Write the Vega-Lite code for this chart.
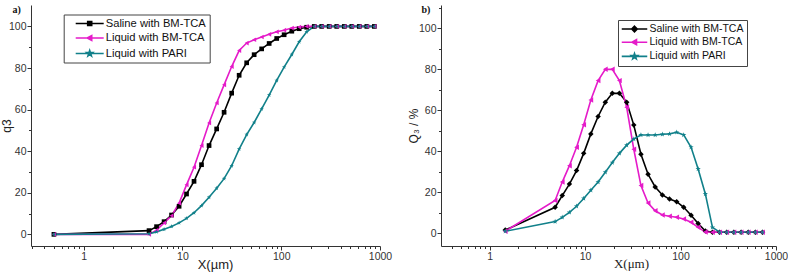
{
  "$schema": "https://vega.github.io/schema/vega-lite/v6.json",
  "padding": {"left": 0, "top": 5, "right": 0, "bottom": 2},
  "background": "white",
  "spacing": 15,
  "config": {
    "view": {"stroke": null},
    "axis": {
      "grid": false,
      "domainColor": "#333333",
      "tickColor": "#333333",
      "labelColor": "#333333",
      "titleColor": "#222222",
      "labelFont": "Liberation Sans",
      "titleFont": "Liberation Sans",
      "labelFontSize": 10.5,
      "titleFontSize": 12,
      "titleFontWeight": "normal",
      "labelPadding": 1,
      "domainWidth": 1,
      "tickWidth": 1
    },
    "legend": {
      "labelFont": "Liberation Sans",
      "labelColor": "#111111"
    }
  },
  "datasets": {
    "a": [
      {"x": 0.5, "y": 0, "s": "Saline with BM-TCA"},
      {"x": 4.59, "y": 1.8, "s": "Saline with BM-TCA"},
      {"x": 5.47, "y": 3.7, "s": "Saline with BM-TCA"},
      {"x": 6.52, "y": 6.1, "s": "Saline with BM-TCA"},
      {"x": 7.76, "y": 9.3, "s": "Saline with BM-TCA"},
      {"x": 9.25, "y": 13.5, "s": "Saline with BM-TCA"},
      {"x": 11.0, "y": 19.4, "s": "Saline with BM-TCA"},
      {"x": 13.1, "y": 25.5, "s": "Saline with BM-TCA"},
      {"x": 15.6, "y": 33.5, "s": "Saline with BM-TCA"},
      {"x": 18.6, "y": 42.7, "s": "Saline with BM-TCA"},
      {"x": 22.2, "y": 50.7, "s": "Saline with BM-TCA"},
      {"x": 26.4, "y": 58.7, "s": "Saline with BM-TCA"},
      {"x": 31.5, "y": 67.9, "s": "Saline with BM-TCA"},
      {"x": 37.5, "y": 76.5, "s": "Saline with BM-TCA"},
      {"x": 44.7, "y": 82.5, "s": "Saline with BM-TCA"},
      {"x": 53.2, "y": 86.4, "s": "Saline with BM-TCA"},
      {"x": 63.4, "y": 89.2, "s": "Saline with BM-TCA"},
      {"x": 75.5, "y": 91.8, "s": "Saline with BM-TCA"},
      {"x": 90.0, "y": 94.2, "s": "Saline with BM-TCA"},
      {"x": 107, "y": 96.0, "s": "Saline with BM-TCA"},
      {"x": 128, "y": 97.7, "s": "Saline with BM-TCA"},
      {"x": 152, "y": 98.9, "s": "Saline with BM-TCA"},
      {"x": 181, "y": 99.6, "s": "Saline with BM-TCA"},
      {"x": 216, "y": 100, "s": "Saline with BM-TCA"},
      {"x": 257, "y": 100, "s": "Saline with BM-TCA"},
      {"x": 306, "y": 100, "s": "Saline with BM-TCA"},
      {"x": 365, "y": 100, "s": "Saline with BM-TCA"},
      {"x": 435, "y": 100, "s": "Saline with BM-TCA"},
      {"x": 518, "y": 100, "s": "Saline with BM-TCA"},
      {"x": 617, "y": 100, "s": "Saline with BM-TCA"},
      {"x": 736, "y": 100, "s": "Saline with BM-TCA"},
      {"x": 877, "y": 100, "s": "Saline with BM-TCA"},
      {"x": 0.5, "y": 0, "s": "Liquid with BM-TCA"},
      {"x": 4.59, "y": 0, "s": "Liquid with BM-TCA"},
      {"x": 5.47, "y": 2.0, "s": "Liquid with BM-TCA"},
      {"x": 6.52, "y": 5.5, "s": "Liquid with BM-TCA"},
      {"x": 7.76, "y": 9.0, "s": "Liquid with BM-TCA"},
      {"x": 9.25, "y": 15.0, "s": "Liquid with BM-TCA"},
      {"x": 11.0, "y": 23.8, "s": "Liquid with BM-TCA"},
      {"x": 13.1, "y": 32.3, "s": "Liquid with BM-TCA"},
      {"x": 15.6, "y": 42.7, "s": "Liquid with BM-TCA"},
      {"x": 18.6, "y": 53.6, "s": "Liquid with BM-TCA"},
      {"x": 22.2, "y": 63.2, "s": "Liquid with BM-TCA"},
      {"x": 26.4, "y": 71.9, "s": "Liquid with BM-TCA"},
      {"x": 31.5, "y": 80.7, "s": "Liquid with BM-TCA"},
      {"x": 37.5, "y": 88.4, "s": "Liquid with BM-TCA"},
      {"x": 44.7, "y": 92.0, "s": "Liquid with BM-TCA"},
      {"x": 53.2, "y": 93.6, "s": "Liquid with BM-TCA"},
      {"x": 63.4, "y": 94.9, "s": "Liquid with BM-TCA"},
      {"x": 75.5, "y": 96.2, "s": "Liquid with BM-TCA"},
      {"x": 90.0, "y": 97.4, "s": "Liquid with BM-TCA"},
      {"x": 107, "y": 98.2, "s": "Liquid with BM-TCA"},
      {"x": 128, "y": 99.2, "s": "Liquid with BM-TCA"},
      {"x": 152, "y": 99.7, "s": "Liquid with BM-TCA"},
      {"x": 181, "y": 100, "s": "Liquid with BM-TCA"},
      {"x": 216, "y": 100, "s": "Liquid with BM-TCA"},
      {"x": 257, "y": 100, "s": "Liquid with BM-TCA"},
      {"x": 306, "y": 100, "s": "Liquid with BM-TCA"},
      {"x": 365, "y": 100, "s": "Liquid with BM-TCA"},
      {"x": 435, "y": 100, "s": "Liquid with BM-TCA"},
      {"x": 518, "y": 100, "s": "Liquid with BM-TCA"},
      {"x": 617, "y": 100, "s": "Liquid with BM-TCA"},
      {"x": 736, "y": 100, "s": "Liquid with BM-TCA"},
      {"x": 877, "y": 100, "s": "Liquid with BM-TCA"},
      {"x": 0.5, "y": 0, "s": "Liquid with PARI"},
      {"x": 4.59, "y": 0.3, "s": "Liquid with PARI"},
      {"x": 5.47, "y": 1.2, "s": "Liquid with PARI"},
      {"x": 6.52, "y": 2.4, "s": "Liquid with PARI"},
      {"x": 7.76, "y": 3.8, "s": "Liquid with PARI"},
      {"x": 9.25, "y": 5.5, "s": "Liquid with PARI"},
      {"x": 11.0, "y": 7.7, "s": "Liquid with PARI"},
      {"x": 13.1, "y": 10.4, "s": "Liquid with PARI"},
      {"x": 15.6, "y": 13.8, "s": "Liquid with PARI"},
      {"x": 18.6, "y": 17.8, "s": "Liquid with PARI"},
      {"x": 22.2, "y": 22.2, "s": "Liquid with PARI"},
      {"x": 26.4, "y": 26.8, "s": "Liquid with PARI"},
      {"x": 31.5, "y": 33.0, "s": "Liquid with PARI"},
      {"x": 37.5, "y": 41.0, "s": "Liquid with PARI"},
      {"x": 44.7, "y": 48.0, "s": "Liquid with PARI"},
      {"x": 53.2, "y": 53.8, "s": "Liquid with PARI"},
      {"x": 63.4, "y": 60.3, "s": "Liquid with PARI"},
      {"x": 75.5, "y": 67.0, "s": "Liquid with PARI"},
      {"x": 90.0, "y": 74.0, "s": "Liquid with PARI"},
      {"x": 107, "y": 80.4, "s": "Liquid with PARI"},
      {"x": 128, "y": 86.5, "s": "Liquid with PARI"},
      {"x": 152, "y": 92.6, "s": "Liquid with PARI"},
      {"x": 181, "y": 97.4, "s": "Liquid with PARI"},
      {"x": 216, "y": 100, "s": "Liquid with PARI"},
      {"x": 257, "y": 100, "s": "Liquid with PARI"},
      {"x": 306, "y": 100, "s": "Liquid with PARI"},
      {"x": 365, "y": 100, "s": "Liquid with PARI"},
      {"x": 435, "y": 100, "s": "Liquid with PARI"},
      {"x": 518, "y": 100, "s": "Liquid with PARI"},
      {"x": 617, "y": 100, "s": "Liquid with PARI"},
      {"x": 736, "y": 100, "s": "Liquid with PARI"},
      {"x": 877, "y": 100, "s": "Liquid with PARI"}
    ],
    "b": [
      {"x": 1.46, "y": 1.6, "s": "Saline with BM-TCA"},
      {"x": 4.86, "y": 12.7, "s": "Saline with BM-TCA"},
      {"x": 5.77, "y": 18.4, "s": "Saline with BM-TCA"},
      {"x": 6.86, "y": 24.0, "s": "Saline with BM-TCA"},
      {"x": 8.15, "y": 30.6, "s": "Saline with BM-TCA"},
      {"x": 9.68, "y": 39.0, "s": "Saline with BM-TCA"},
      {"x": 11.5, "y": 48.5, "s": "Saline with BM-TCA"},
      {"x": 13.7, "y": 57.0, "s": "Saline with BM-TCA"},
      {"x": 16.3, "y": 64.0, "s": "Saline with BM-TCA"},
      {"x": 19.3, "y": 68.3, "s": "Saline with BM-TCA"},
      {"x": 22.9, "y": 68.3, "s": "Saline with BM-TCA"},
      {"x": 27.3, "y": 64.0, "s": "Saline with BM-TCA"},
      {"x": 32.4, "y": 52.8, "s": "Saline with BM-TCA"},
      {"x": 38.5, "y": 38.6, "s": "Saline with BM-TCA"},
      {"x": 45.7, "y": 28.8, "s": "Saline with BM-TCA"},
      {"x": 54.3, "y": 22.6, "s": "Saline with BM-TCA"},
      {"x": 64.6, "y": 18.7, "s": "Saline with BM-TCA"},
      {"x": 76.7, "y": 16.7, "s": "Saline with BM-TCA"},
      {"x": 91.2, "y": 15.4, "s": "Saline with BM-TCA"},
      {"x": 108, "y": 12.7, "s": "Saline with BM-TCA"},
      {"x": 129, "y": 8.8, "s": "Saline with BM-TCA"},
      {"x": 153, "y": 4.8, "s": "Saline with BM-TCA"},
      {"x": 182, "y": 1.1, "s": "Saline with BM-TCA"},
      {"x": 216, "y": 0.5, "s": "Saline with BM-TCA"},
      {"x": 257, "y": 0.5, "s": "Saline with BM-TCA"},
      {"x": 305, "y": 0.5, "s": "Saline with BM-TCA"},
      {"x": 362, "y": 0.5, "s": "Saline with BM-TCA"},
      {"x": 431, "y": 0.5, "s": "Saline with BM-TCA"},
      {"x": 512, "y": 0.5, "s": "Saline with BM-TCA"},
      {"x": 608, "y": 0.5, "s": "Saline with BM-TCA"},
      {"x": 722, "y": 0.5, "s": "Saline with BM-TCA"},
      {"x": 1.46, "y": 1.0, "s": "Liquid with BM-TCA"},
      {"x": 4.86, "y": 16.0, "s": "Liquid with BM-TCA"},
      {"x": 5.77, "y": 25.0, "s": "Liquid with BM-TCA"},
      {"x": 6.86, "y": 33.0, "s": "Liquid with BM-TCA"},
      {"x": 8.15, "y": 42.0, "s": "Liquid with BM-TCA"},
      {"x": 9.68, "y": 53.0, "s": "Liquid with BM-TCA"},
      {"x": 11.5, "y": 65.0, "s": "Liquid with BM-TCA"},
      {"x": 13.7, "y": 74.5, "s": "Liquid with BM-TCA"},
      {"x": 16.3, "y": 80.0, "s": "Liquid with BM-TCA"},
      {"x": 19.3, "y": 80.0, "s": "Liquid with BM-TCA"},
      {"x": 22.9, "y": 74.5, "s": "Liquid with BM-TCA"},
      {"x": 27.3, "y": 61.5, "s": "Liquid with BM-TCA"},
      {"x": 32.4, "y": 41.0, "s": "Liquid with BM-TCA"},
      {"x": 38.5, "y": 23.3, "s": "Liquid with BM-TCA"},
      {"x": 45.7, "y": 14.8, "s": "Liquid with BM-TCA"},
      {"x": 54.3, "y": 11.0, "s": "Liquid with BM-TCA"},
      {"x": 64.6, "y": 8.9, "s": "Liquid with BM-TCA"},
      {"x": 76.7, "y": 8.3, "s": "Liquid with BM-TCA"},
      {"x": 91.2, "y": 7.8, "s": "Liquid with BM-TCA"},
      {"x": 108, "y": 7.0, "s": "Liquid with BM-TCA"},
      {"x": 129, "y": 5.4, "s": "Liquid with BM-TCA"},
      {"x": 153, "y": 2.9, "s": "Liquid with BM-TCA"},
      {"x": 182, "y": 0.6, "s": "Liquid with BM-TCA"},
      {"x": 216, "y": 0.5, "s": "Liquid with BM-TCA"},
      {"x": 257, "y": 0.5, "s": "Liquid with BM-TCA"},
      {"x": 305, "y": 0.5, "s": "Liquid with BM-TCA"},
      {"x": 362, "y": 0.5, "s": "Liquid with BM-TCA"},
      {"x": 431, "y": 0.5, "s": "Liquid with BM-TCA"},
      {"x": 512, "y": 0.5, "s": "Liquid with BM-TCA"},
      {"x": 608, "y": 0.5, "s": "Liquid with BM-TCA"},
      {"x": 722, "y": 0.5, "s": "Liquid with BM-TCA"},
      {"x": 1.46, "y": 1.0, "s": "Liquid with PARI"},
      {"x": 4.86, "y": 5.7, "s": "Liquid with PARI"},
      {"x": 5.77, "y": 7.8, "s": "Liquid with PARI"},
      {"x": 6.86, "y": 10.2, "s": "Liquid with PARI"},
      {"x": 8.15, "y": 13.2, "s": "Liquid with PARI"},
      {"x": 9.68, "y": 17.0, "s": "Liquid with PARI"},
      {"x": 11.5, "y": 21.0, "s": "Liquid with PARI"},
      {"x": 13.7, "y": 25.0, "s": "Liquid with PARI"},
      {"x": 16.3, "y": 29.8, "s": "Liquid with PARI"},
      {"x": 19.3, "y": 34.5, "s": "Liquid with PARI"},
      {"x": 22.9, "y": 39.0, "s": "Liquid with PARI"},
      {"x": 27.3, "y": 43.0, "s": "Liquid with PARI"},
      {"x": 32.4, "y": 46.0, "s": "Liquid with PARI"},
      {"x": 38.5, "y": 48.0, "s": "Liquid with PARI"},
      {"x": 45.7, "y": 48.0, "s": "Liquid with PARI"},
      {"x": 54.3, "y": 48.0, "s": "Liquid with PARI"},
      {"x": 64.6, "y": 48.3, "s": "Liquid with PARI"},
      {"x": 76.7, "y": 48.5, "s": "Liquid with PARI"},
      {"x": 91.2, "y": 49.3, "s": "Liquid with PARI"},
      {"x": 108, "y": 48.0, "s": "Liquid with PARI"},
      {"x": 129, "y": 42.0, "s": "Liquid with PARI"},
      {"x": 153, "y": 31.4, "s": "Liquid with PARI"},
      {"x": 182, "y": 19.2, "s": "Liquid with PARI"},
      {"x": 216, "y": 2.9, "s": "Liquid with PARI"},
      {"x": 257, "y": 0.5, "s": "Liquid with PARI"},
      {"x": 305, "y": 0.5, "s": "Liquid with PARI"},
      {"x": 362, "y": 0.5, "s": "Liquid with PARI"},
      {"x": 431, "y": 0.5, "s": "Liquid with PARI"},
      {"x": 512, "y": 0.5, "s": "Liquid with PARI"},
      {"x": 608, "y": 0.5, "s": "Liquid with PARI"},
      {"x": 722, "y": 0.5, "s": "Liquid with PARI"}
    ]
  },
  "resolve": {
    "scale": {"stroke": "independent", "fill": "independent", "shape": "independent"},
    "legend": {"stroke": "independent", "fill": "independent", "shape": "independent"}
  },
  "hconcat": [
    {
      "width": 349,
      "height": 241,
      "title": {"text": "a)", "anchor": "start", "frame": "bounds", "font": "Liberation Serif", "fontWeight": "bold", "fontSize": 10, "color": "#111111", "offset": 0, "dy": 10, "dx": 12},
      "data": {"name": "a"},
      "encoding": {
        "x": {"field": "x", "type": "quantitative",
          "scale": {"type": "log", "domain": [0.293, 1000], "nice": false, "zero": false},
          "axis": {"title": "X(µm)", "titleFontSize": 13, "titleX": 184, "titlePadding": -3,
            "values": [0.3,0.4,0.5,0.6,0.7,0.8,0.9,1,2,3,4,5,6,7,8,9,10,20,30,40,50,60,70,80,90,100,200,300,400,500,600,700,800,900,1000],
            "labelExpr": "datum.value == 1 || datum.value == 10 || datum.value == 100 || datum.value == 1000 ? format(datum.value, 'd') : ''",
            "tickSize": {"condition": {"test": "datum.value == 1 || datum.value == 10 || datum.value == 100 || datum.value == 1000", "value": 4}, "value": 2.5},
            "labelFlush": false, "labelOverlap": false}},
        "y": {"field": "y", "type": "quantitative",
          "scale": {"domain": [-5.6, 110.3], "nice": false, "zero": false},
          "axis": {"title": "q3", "titlePadding": -5,
            "values": [0,10,20,30,40,50,60,70,80,90,100],
            "labelExpr": "datum.value % 20 == 0 ? datum.label : ''",
            "tickSize": {"condition": {"test": "datum.value % 20 == 0", "value": 4}, "value": 2.5}}}
      },
      "layer": [
        {
          "mark": {"type": "line", "strokeWidth": 1.6},
          "encoding": {
            "stroke": {"field": "s", "type": "nominal", "sort": null,
              "scale": {"domain": ["Saline with BM-TCA", "Liquid with BM-TCA", "Liquid with PARI"], "range": ["#000000", "#E51BC9", "#11808A"]},
              "legend": {"title": null, "orient": "none", "legendX": 32.7, "legendY": 9.5, "padding": 3, "strokeColor": "#444444", "fillColor": "white",
                "labelFontSize": 11.2, "rowPadding": 2.5, "symbolSize": 100, "symbolStrokeWidth": 1.6, "symbolOffset": 17, "labelOffset": 10,
                "encode": {"symbols": {"update": {
                  "shape": {"signal": "datum.value === 'Saline with BM-TCA' ? 'M-2.8,0H2.8M-0.4,-0.4H0.4V0.4H-0.4Z' : datum.value === 'Liquid with BM-TCA' ? 'M-2.8,0H2.8M-0.5,0L0.4,-0.5L0.4,0.5Z' : 'M-2.8,0H2.8M0,-0.6L0.14,-0.19L0.57,-0.19L0.23,0.07L0.35,0.49L0,0.24L-0.35,0.49L-0.23,0.07L-0.57,-0.19L-0.14,-0.19Z'"},
                  "fill": {"signal": "datum.value === 'Saline with BM-TCA' ? '#000000' : datum.value === 'Liquid with BM-TCA' ? '#E51BC9' : '#11808A'"}
                }}}}}
          }
        },
        {
          "mark": {"type": "point", "filled": true, "opacity": 1, "size": 22, "strokeWidth": 0},
          "encoding": {
            "fill": {"field": "s", "type": "nominal", "sort": null, "legend": null,
              "scale": {"domain": ["Liquid with PARI", "Saline with BM-TCA", "Liquid with BM-TCA"], "range": ["#11808A", "#000000", "#E51BC9"]}},
            "shape": {"field": "s", "type": "nominal", "sort": null, "legend": null,
              "scale": {"domain": ["Liquid with PARI", "Saline with BM-TCA", "Liquid with BM-TCA"], "range": ["M0,-1L0.235,-0.324L0.951,-0.309L0.38,0.124L0.588,0.809L0,0.4L-0.588,0.809L-0.38,0.124L-0.951,-0.309L-0.235,-0.324Z", "square", "triangle-left"]}}
          }
        }
      ]
    },
    {
      "width": 335,
      "height": 241,
      "title": {"text": "b)", "anchor": "start", "frame": "bounds", "font": "Liberation Serif", "fontWeight": "bold", "fontSize": 10, "color": "#111111", "offset": 0, "dy": 10, "dx": 14},
      "data": {"name": "b"},
      "encoding": {
        "x": {"field": "x", "type": "quantitative",
          "scale": {"type": "log", "domain": [0.31, 1000], "nice": false, "zero": false},
          "axis": {"title": "X(μm)", "titleFont": "Liberation Serif", "titleFontSize": 13, "titleX": 190, "titlePadding": -4,
            "values": [0.4,0.5,0.6,0.7,0.8,0.9,1,2,3,4,5,6,7,8,9,10,20,30,40,50,60,70,80,90,100,200,300,400,500,600,700,800,900,1000],
            "labelExpr": "datum.value == 1 || datum.value == 10 || datum.value == 100 || datum.value == 1000 ? format(datum.value, 'd') : ''",
            "tickSize": {"condition": {"test": "datum.value == 1 || datum.value == 10 || datum.value == 100 || datum.value == 1000", "value": 4}, "value": 2.5},
            "labelFlush": false, "labelOverlap": false}},
        "y": {"field": "y", "type": "quantitative",
          "scale": {"domain": [-6.2, 111.4], "nice": false, "zero": false},
          "axis": {"title": "Q₃ / %", "titlePadding": -2,
            "values": [0,10,20,30,40,50,60,70,80,90,100,110],
            "labelExpr": "datum.value % 20 == 0 && datum.value <= 100 ? datum.label : ''",
            "tickSize": {"condition": {"test": "datum.value % 20 == 0 && datum.value <= 100", "value": 4}, "value": 2.5}}}
      },
      "layer": [
        {
          "mark": {"type": "line", "strokeWidth": 1.6},
          "encoding": {
            "stroke": {"field": "s", "type": "nominal", "sort": null,
              "scale": {"domain": ["Saline with BM-TCA", "Liquid with BM-TCA", "Liquid with PARI"], "range": ["#000000", "#E51BC9", "#11808A"]},
              "legend": {"title": null, "orient": "none", "legendX": 177, "legendY": 15, "padding": 3, "strokeColor": "#444444", "fillColor": "white",
                "labelFontSize": 10.5, "rowPadding": 1.2, "symbolSize": 100, "symbolStrokeWidth": 1.6, "symbolOffset": 7.5, "labelOffset": 9,
                "encode": {"symbols": {"update": {
                  "shape": {"signal": "datum.value === 'Saline with BM-TCA' ? 'M-2.55,0H2.55M0,-0.55L0.55,0L0,0.55L-0.55,0Z' : datum.value === 'Liquid with BM-TCA' ? 'M-2.55,0H2.55M-0.5,0L0.4,-0.5L0.4,0.5Z' : 'M-2.55,0H2.55M0,-0.6L0.14,-0.19L0.57,-0.19L0.23,0.07L0.35,0.49L0,0.24L-0.35,0.49L-0.23,0.07L-0.57,-0.19L-0.14,-0.19Z'"},
                  "fill": {"signal": "datum.value === 'Saline with BM-TCA' ? '#000000' : datum.value === 'Liquid with BM-TCA' ? '#E51BC9' : '#11808A'"}
                }}}}}
          }
        },
        {
          "mark": {"type": "point", "filled": true, "opacity": 1, "size": 30, "strokeWidth": 0},
          "encoding": {
            "fill": {"field": "s", "type": "nominal", "sort": null, "legend": null,
              "scale": {"domain": ["Liquid with PARI", "Saline with BM-TCA", "Liquid with BM-TCA"], "range": ["#11808A", "#000000", "#E51BC9"]}},
            "shape": {"field": "s", "type": "nominal", "sort": null, "legend": null,
              "scale": {"domain": ["Liquid with PARI", "Saline with BM-TCA", "Liquid with BM-TCA"], "range": ["M0,-1L0.235,-0.324L0.951,-0.309L0.38,0.124L0.588,0.809L0,0.4L-0.588,0.809L-0.38,0.124L-0.951,-0.309L-0.235,-0.324Z", "diamond", "triangle-left"]}}
          }
        }
      ]
    }
  ]
}
